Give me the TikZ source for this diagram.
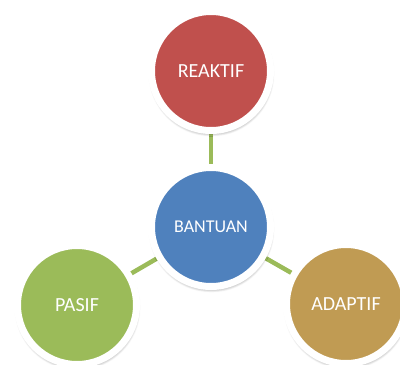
\documentclass[tikz,border=0pt]{standalone}
\usepackage{fontspec}
\setmainfont{Carlito}
\usetikzlibrary{shadows.blur,backgrounds}
\definecolor{cred}{RGB}{192,80,77}
\definecolor{cblue}{RGB}{79,129,189}
\definecolor{cgreen}{RGB}{155,187,89}
\definecolor{cgold}{RGB}{192,155,83}
\tikzset{
  bubble/.style={circle, minimum size=119pt, inner sep=0pt, outer sep=0pt,
    draw=white, line width=7pt, text=white,
    blur shadow={shadow xshift=0.5pt, shadow yshift=-2.5pt, shadow blur steps=8, shadow opacity=55, shadow blur radius=3.5pt, shadow blur extra rounding=1pt}},
  link/.style={draw=cgreen, line width=4.5pt}
}
\begin{document}
\begin{tikzpicture}[x=1pt,y=-1pt]
\useasboundingbox (0,0) rectangle (400,365);
\clip (0,0) rectangle (400,365);
\node[bubble, fill=cred, font=\fontsize{20}{24}\selectfont] (r) at (211,71) {REAKTIF};
\node[bubble, fill=cblue, font=\fontsize{18}{22}\selectfont] (b) at (211,227) {BANTUAN};
\node[bubble, fill=cgreen, font=\fontsize{20}{24}\selectfont] (p) at (77,305) {PASIF};
\node[bubble, fill=cgold, font=\fontsize{20}{24}\selectfont] (a) at (346,304) {ADAPTIF};
\begin{scope}[on background layer]
\draw[link] (r.center) -- (b.center);
\draw[link] (b.center) -- (p.center);
\draw[link] (b.center) -- (a.center);
\end{scope}
\end{tikzpicture}
\end{document}
